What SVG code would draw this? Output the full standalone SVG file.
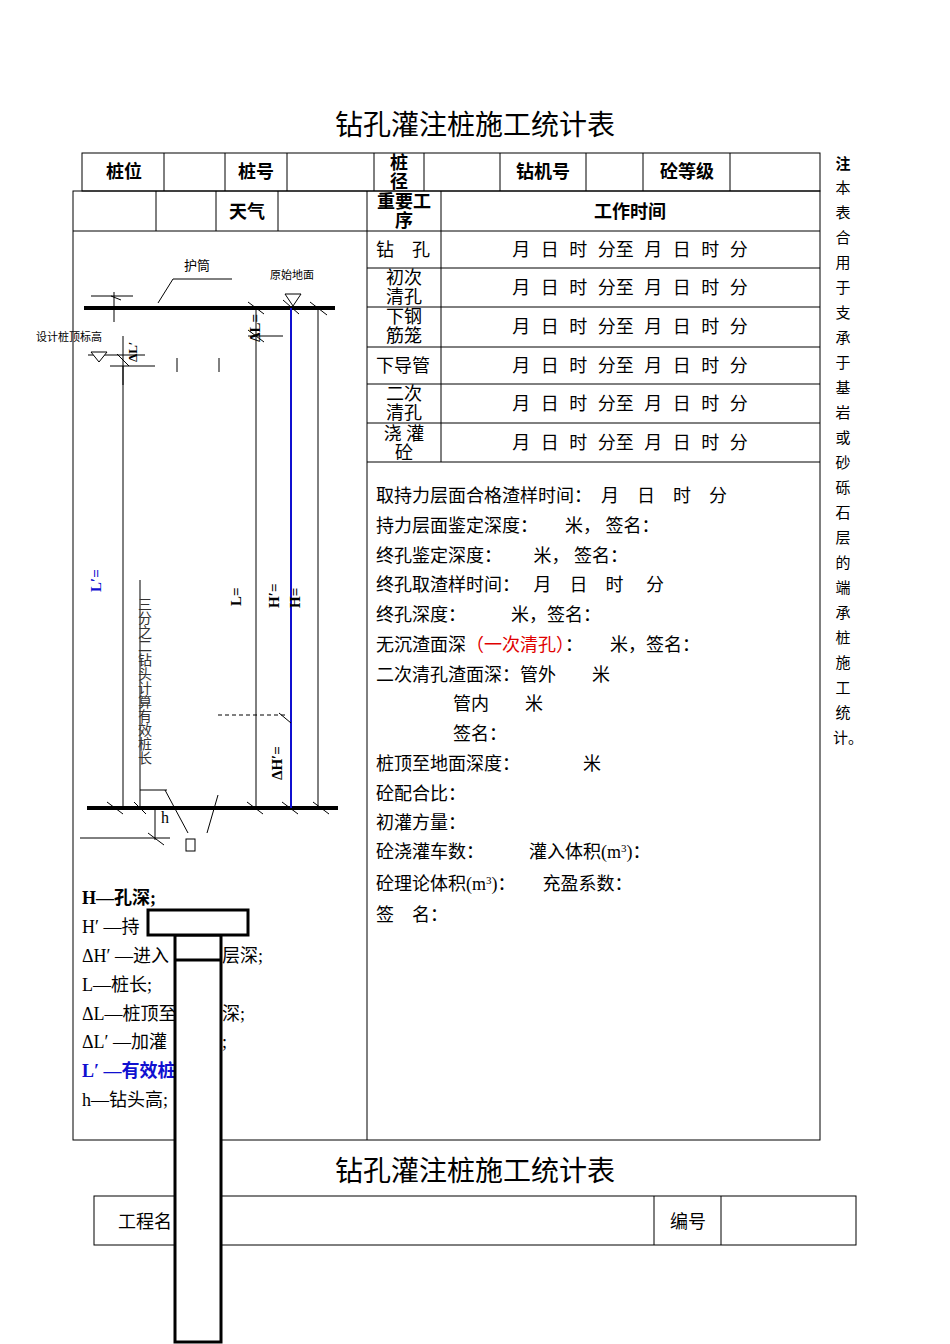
<svg xmlns="http://www.w3.org/2000/svg" width="950" height="1344" viewBox="0 0 950 1344">
<style>
text{font-family:"Liberation Serif","Noto Sans CJK SC",serif}
.s{font-family:"Noto Sans CJK SC",sans-serif}
.h{font-size:18px;font-weight:bold;text-anchor:middle}
.t{font-size:18px}
.c{text-anchor:middle}
.ln{stroke:#000;stroke-width:1;fill:none}
.bk{stroke:#000;stroke-width:4}
.tm{word-spacing:6px}
.bl{fill:#1010d0}
</style>
<rect width="950" height="1344" fill="#fff"/>
<text class="s c" x="475" y="135" font-size="28">钻孔灌注桩施工统计表</text>
<g class="ln">
<rect x="82" y="153" width="738" height="38"/>
<path d="M164 153V191M225 153V191M287 153V191M374 153V191M424 153V191M500 153V191M586 153V191M643 153V191M730 153V191"/>
<rect x="73" y="191" width="747" height="949"/>
<path d="M156 191V231M216 191V231M278 191V231M367 191V1140M441 191V462M73 231H820M367 268H820M367 307H820M367 347H820M367 384H820M367 423H820M367 462H820"/>
</g>
<g class="s">
<text class="h" x="124" y="178">桩位</text><text class="h" x="256" y="178">桩号</text>
<text class="h" x="399" y="169">桩</text><text class="h" x="399" y="188">径</text>
<text class="h" x="543" y="178">钻机号</text><text class="h" x="687" y="178">砼等级</text>
<text class="h" x="247" y="218">天气</text>
<text class="h" x="404" y="208">重要工</text><text class="h" x="404" y="227">序</text>
<text class="h" x="630" y="218">工作时间</text>
</g>
<g class="t">
<text x="376" y="256">钻　孔</text>
<text class="c" x="404" y="284">初次</text><text class="c" x="404" y="303">清孔</text>
<text class="c" x="404" y="323">下钢</text><text class="c" x="404" y="342">筋笼</text>
<text x="376" y="372">下导管</text>
<text class="c" x="404" y="400">二次</text><text class="c" x="404" y="419">清孔</text>
<text class="c" x="404" y="440">浇 灌</text><text class="c" x="404" y="459">砼</text>
<text class="c tm" x="630" y="256">月 日 时 分至 月 日 时 分</text>
<text class="c tm" x="630" y="294">月 日 时 分至 月 日 时 分</text>
<text class="c tm" x="630" y="333">月 日 时 分至 月 日 时 分</text>
<text class="c tm" x="630" y="372">月 日 时 分至 月 日 时 分</text>
<text class="c tm" x="630" y="410">月 日 时 分至 月 日 时 分</text>
<text class="c tm" x="630" y="449">月 日 时 分至 月 日 时 分</text>
<text x="376" y="502">取持力层面合格渣样时间：　月　日　时　分</text>
<text x="376" y="532">持力层面鉴定深度：　　米，  签名：</text>
<text x="376" y="562">终孔鉴定深度：　　 米，  签名：</text>
<text x="376" y="591">终孔取渣样时间：　 月　日　时　 分</text>
<text x="376" y="621">终孔深度：　　　米，签名：</text>
<text x="376" y="651">无沉渣面深<tspan fill="#e00000">（一次清孔）</tspan>：　　米，签名：</text>
<text x="376" y="681">二次清孔渣面深：管外　　米</text>
<text x="453" y="710">管内　　米</text>
<text x="453" y="740">签名：</text>
<text x="376" y="770">桩顶至地面深度：　　　　米</text>
<text x="376" y="800">砼配合比：</text>
<text x="376" y="829">初灌方量：</text>
<text x="376" y="858">砼浇灌车数：　　　灌入体积(m<tspan font-size="11" dy="-6">3</tspan><tspan dy="6">)：</tspan></text>
<text x="376" y="890">砼理论体积(m<tspan font-size="11" dy="-6">3</tspan><tspan dy="6">)：　　充盈系数：</tspan></text>
<text x="376" y="921">签　名：</text>
</g>
<g class="s" font-size="15" text-anchor="middle">
<text x="843" y="169" font-weight="bold">注</text>
<text x="843" y="193">本</text><text x="843" y="218">表</text><text x="843" y="243">合</text><text x="843" y="268">用</text><text x="843" y="293">于</text><text x="843" y="318">支</text><text x="843" y="343">承</text><text x="843" y="368">于</text><text x="843" y="393">基</text><text x="843" y="418">岩</text><text x="843" y="443">或</text><text x="843" y="468">砂</text><text x="843" y="493">砾</text><text x="843" y="518">石</text><text x="843" y="543">层</text><text x="843" y="568">的</text><text x="843" y="593">端</text><text x="843" y="618">承</text><text x="843" y="643">桩</text><text x="843" y="668">施</text><text x="843" y="693">工</text><text x="843" y="718">统</text><text x="848" y="743">计。</text>
</g>
<g id="diagram">
<path class="bk" d="M84 308H335M87 808H338"/>
<path stroke="#1010d0" stroke-width="2" d="M291 308V808"/>
<g class="ln">
<path d="M256 308V808M318 308V808M123 366V808M140 580V808M155 808V840M140 790H167"/>
<path d="M91 296H133M114 292V322M248 336H283M88 355H145M110 366H155M123 336V385M80 838H170"/>
<path d="M218 715H288" stroke-dasharray="4 3"/>
<path d="M158 303L173 279H232M111 296L121 300M248 302L264 314M283 300L299 314M310 302L327 315M107 802L123 814M134 802L146 814M247 802L263 814M282 802L298 814M313 802L329 814M148 833L164 845M248 330L264 342M117 354L129 366M279 713L291 723"/>
<path d="M165 790L188 833M207 833L218 795M177 358V372M219 358V372"/>
</g>
<path d="M285 294H301L293 306Z M91 352H107L99 362Z" fill="#fff" stroke="#000"/>
<text class="s" x="184" y="270" font-size="13">护筒</text>
<text class="s" x="270" y="279" font-size="11">原始地面</text>
<text class="s" x="36" y="341" font-size="11">设计桩顶标高</text>
<text font-size="15" font-weight="bold" transform="translate(260 342) rotate(-90)">ΔL=</text>
<text font-size="13" font-weight="bold" transform="translate(137 362) rotate(-90)">ΔL′</text>
<text class="bl" font-size="15" font-weight="bold" transform="translate(101 592) rotate(-90)">L′=</text>
<text font-size="15" font-weight="bold" transform="translate(241 606) rotate(-90)">L=</text>
<text font-size="15" font-weight="bold" transform="translate(279 608) rotate(-90)">H′=</text>
<text font-size="15" font-weight="bold" transform="translate(300 608) rotate(-90)">H=</text>
<text font-size="15" font-weight="bold" transform="translate(282 780) rotate(-90)">ΔH′=</text>
<text class="s" x="145" y="597" font-size="14" writing-mode="tb" fill="#333">三分之二钻头计算有效桩长</text>
<text x="161" y="823" font-size="16">h</text>
<rect x="186" y="839" width="9" height="12" fill="none" stroke="#000"/>
</g>
<g class="t">
<text x="82" y="904" font-weight="bold">H—孔深;</text>
<text x="82" y="933">H′ —持</text>
<text x="82" y="962">ΔH′ —进入</text><text x="222" y="962">层深;</text>
<text x="82" y="991">L—桩长;</text>
<text x="82" y="1020">ΔL—桩顶至</text><text x="222" y="1020">深;</text>
<text x="82" y="1048">ΔL′ —加灌</text><text x="222" y="1048">;</text>
<text class="bl" x="82" y="1077" font-weight="bold">L′ —有效桩</text>
<text x="82" y="1106">h—钻头高;</text>
</g>
<text class="s c" x="475" y="1181" font-size="28">钻孔灌注桩施工统计表</text>
<g class="ln"><rect x="94" y="1196" width="762" height="49"/><path d="M654 1196V1245M721 1196V1245"/></g>
<text class="s" x="118" y="1228" font-size="18">工程名</text>
<text class="s" x="670" y="1228" font-size="18">编号</text>
<g id="overlay" fill="#fff" stroke="#000" stroke-width="3">
<rect x="175" y="935" width="46" height="407"/>
<rect x="148" y="910" width="100" height="25"/>
<path d="M175 960H221"/>
</g>
</svg>
